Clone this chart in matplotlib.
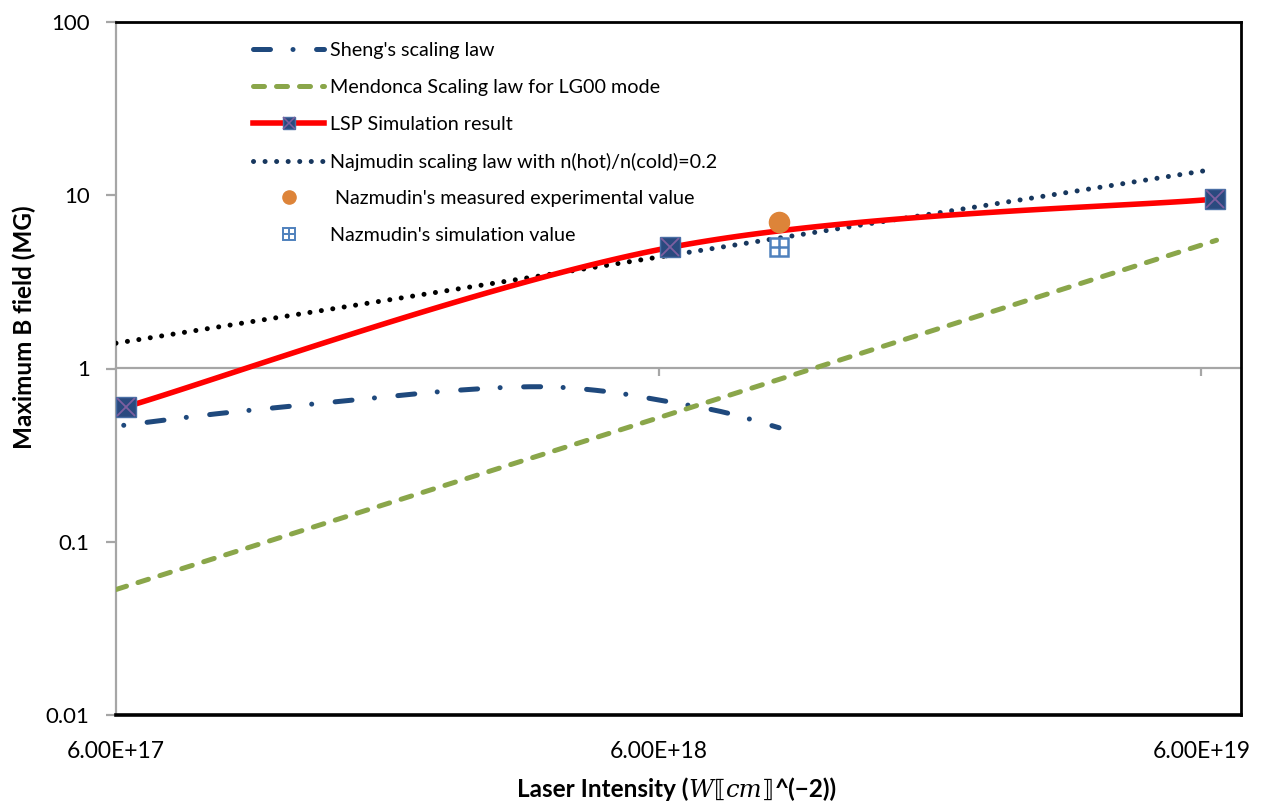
import numpy as np
import matplotlib
matplotlib.use("Agg")
import matplotlib.pyplot as plt
from matplotlib.lines import Line2D
from matplotlib.legend_handler import HandlerTuple
from matplotlib.offsetbox import TextArea, HPacker, AnchoredOffsetbox

plt.rcParams['font.family'] = ['Lato', 'DejaVu Sans']

# ---- data -------------------------------------------------------------
lsp_I = [6.25e17, 6.3e18, 6.35e19]
lsp_B = [0.60, 5.0, 9.5]

sheng_I = [6.2e17, 9.3e17, 1.55e18, 2.5e18, 3.6e18, 4.75e18, 6.05e18, 7.9e18, 1.0e19]
sheng_B = [0.47, 0.55, 0.645, 0.745, 0.785, 0.74, 0.655, 0.56, 0.455]

mendonca_I = [6.0e17, 6.0e18, 6.4e19]
mendonca_B = [0.053, 0.52, 5.5]

najmudin_low_I = [6.0e17, 6.2e18]
najmudin_low_B = [1.40, 4.47]
najmudin_I = [6.2e18, 6.13e19]
najmudin_B = [4.47, 13.9]

naz_exp_I = [1.0e19]
naz_exp_B = [7.0]
naz_sim_I = [1.0e19]
naz_sim_B = [5.0]

x_ticks = [6e17, 6e18, 6e19]
x_ticklabels = ["6.00E+17", "6.00E+18", "6.00E+19"]
y_ticks = [0.01, 0.1, 1, 10, 100]
y_ticklabels = ["0.01", "0.1", "1", "10", "100"]

labels = ["Sheng's scaling law",
          "Mendonca Scaling law for LG00 mode",
          "LSP Simulation result",
          "Najmudin scaling law with n(hot)/n(cold)=0.2",
          " Nazmudin's measured experimental value",
          "Nazmudin's simulation value"]

# ---- colours ----------------------------------------------------------
NAVY = "#1f497d"
DARK_NAVY = "#17375e"
GREEN = "#8aa64a"
RED = "#ff0000"
ORANGE = "#dd8439"
LIGHT_BLUE = "#4f81bd"
GRID_GREY = "#a6a6a6"


def smooth_log(xs, ys, n=60):
    """Bezier smoothing (spreadsheet style) in log-log space."""
    P = np.column_stack([np.log10(xs), np.log10(ys)])
    out = []
    for i in range(len(P) - 1):
        p0 = P[i - 1] if i > 0 else P[i]
        p1, p2 = P[i], P[i + 1]
        p3 = P[i + 2] if i + 2 < len(P) else P[i + 1]
        c1 = p1 + (p2 - p0) / 6.0
        c2 = p2 - (p3 - p1) / 6.0
        t = np.linspace(0, 1, n)[:, None]
        seg = ((1 - t) ** 3) * p1 + 3 * ((1 - t) ** 2) * t * c1 \
            + 3 * (1 - t) * t ** 2 * c2 + t ** 3 * p2
        out.append(seg if i == 0 else seg[1:])
    out = np.vstack(out)
    return 10 ** out[:, 0], 10 ** out[:, 1]


fig = plt.figure(figsize=(12.66, 8.07), dpi=100)
ax = fig.add_axes([116 / 1266, 1 - 715 / 807, (1241 - 116) / 1266, (715 - 22) / 807])
ax.set_xscale('log')
ax.set_yscale('log')
ax.set_xlim(6e17, 7.1e19)
ax.set_ylim(0.01, 100)

# horizontal axis crossing at B = 1
sec = ax.secondary_xaxis(0.5)
sec.spines['top'].set_color(GRID_GREY)
sec.spines['top'].set_linewidth(1.6)
sec.set_xticks(x_ticks[1:])
sec.tick_params(axis='x', direction='in', length=6, width=1.6, color=GRID_GREY,
                labeltop=False, labelbottom=False, top=True, bottom=False)
sec.xaxis.set_minor_locator(matplotlib.ticker.NullLocator())

LW = 3.6
SHENG_DASH = (0, (3.4, 4.5, 0.01, 4.7))
SHENG_LINE = (7.9, (3.4, 4.5, 0.01, 4.7))
MEND_DASH = (0, (2.2, 2.4))
DOTS = (0, (0.01, 2.3))

# Sheng's scaling law
sx, sy = smooth_log(sheng_I, sheng_B)
ax.plot(sx, sy, color=NAVY, lw=LW, dash_capstyle='round', linestyle=SHENG_LINE, zorder=3)

# Mendonca scaling law
ax.plot(mendonca_I, mendonca_B, color=GREEN, lw=LW, dash_capstyle='round',
        linestyle=MEND_DASH, zorder=3)

# Najmudin scaling law
ax.plot(najmudin_low_I, najmudin_low_B, color='black', lw=LW, dash_capstyle='round',
        linestyle=DOTS, zorder=3)
ax.plot(najmudin_I, najmudin_B, color=DARK_NAVY, lw=LW, dash_capstyle='round',
        linestyle=DOTS, zorder=3)

# LSP simulation result
lx, ly = smooth_log(lsp_I, lsp_B)
ax.plot(lx, ly, color=RED, lw=4.0, solid_capstyle='butt', zorder=4)
ax.plot(lsp_I, lsp_B, linestyle='none', marker='s', ms=14, mfc='#2a4a7f',
        mec='#4a6fa5', mew=1.0, zorder=5, clip_on=False)
ax.plot(lsp_I, lsp_B, linestyle='none', marker='x', ms=13, mec='#7d5fa0',
        mew=1.3, zorder=6, clip_on=False)

# Nazmudin points
ax.plot(naz_exp_I, naz_exp_B, linestyle='none', marker='o', ms=14.5,
        mfc=ORANGE, mec=ORANGE, zorder=5)
ax.plot(naz_sim_I, naz_sim_B, linestyle='none', marker='s', ms=13,
        mfc='white', mec=LIGHT_BLUE, mew=1.8, zorder=5)
ax.plot(naz_sim_I, naz_sim_B, linestyle='none', marker='+', ms=13,
        mec=LIGHT_BLUE, mew=1.8, zorder=6)

# axes styling
for side in ['top', 'right', 'bottom']:
    ax.spines[side].set_color('black')
ax.spines['top'].set_linewidth(2.0)
ax.spines['right'].set_linewidth(2.0)
ax.spines['bottom'].set_linewidth(2.6)
ax.spines['left'].set_color(GRID_GREY)
ax.spines['left'].set_linewidth(1.6)

ax.set_xticks(x_ticks)
ax.set_xticklabels(x_ticklabels)
ax.xaxis.set_minor_locator(matplotlib.ticker.NullLocator())
ax.tick_params(axis='x', length=0, pad=19, labelsize=16.5)
ax.set_yticks(y_ticks)
ax.set_yticklabels(y_ticklabels)
ax.yaxis.set_minor_locator(matplotlib.ticker.NullLocator())
ax.tick_params(axis='y', length=7, width=1.6, color=GRID_GREY, pad=12, labelsize=16)

# y axis title
ax.set_ylabel("Maximum B field (MG)", fontsize=17.5, fontweight='bold')
ax.yaxis.set_label_coords(-0.071, 0.56)

# x axis title, built from pieces with mixed styles
XL = 17.5
bold = dict(family=['Lato', 'DejaVu Sans'], weight='bold', size=XL, color='black')
ital = dict(family=['DejaVu Serif'], style='italic', size=XL, color='black')
brk = dict(family=['DejaVu Sans'], size=XL, color='black')
pieces = [TextArea("Laser Intensity (", textprops=bold),
          TextArea("W", textprops=ital),
          TextArea("⟦", textprops=brk),
          TextArea("cm", textprops=ital),
          TextArea("⟧", textprops=brk),
          TextArea("^(−2))", textprops=bold)]
xl_box = HPacker(children=pieces, align='baseline', pad=0, sep=0)
xl_anchor = AnchoredOffsetbox(loc='lower center', child=xl_box, pad=0, borderpad=0,
                              frameon=False, bbox_to_anchor=(677 / 1266, 5 / 807),
                              bbox_transform=fig.transFigure)
fig.add_artist(xl_anchor)

# legend
h_sheng = Line2D([], [], color=NAVY, lw=LW, dash_capstyle='round', linestyle=SHENG_DASH)
h_mend = Line2D([], [], color=GREEN, lw=LW, dash_capstyle='round', linestyle=MEND_DASH)
h_lsp = (Line2D([], [], color=RED, lw=4.0, marker='s', ms=9, mfc='#2a4a7f',
                mec='#4a6fa5'),
         Line2D([], [], linestyle='none', marker='x', ms=8.5, mec='#7d5fa0', mew=1.1))
h_naj = Line2D([], [], color=DARK_NAVY, lw=LW, dash_capstyle='round', linestyle=DOTS)
h_exp = Line2D([], [], linestyle='none', marker='o', ms=9.5, mfc=ORANGE, mec=ORANGE)
h_sim = (Line2D([], [], linestyle='none', marker='s', ms=8, mfc='white',
                mec=LIGHT_BLUE, mew=1.4),
         Line2D([], [], linestyle='none', marker='+', ms=8, mec=LIGHT_BLUE, mew=1.4))

leg = ax.legend([h_sheng, h_mend, h_lsp, h_naj, h_exp, h_sim], labels,
                handler_map={tuple: HandlerTuple(ndivide=1)},
                loc='upper left', bbox_to_anchor=(0.115, 0.982), frameon=False,
                fontsize=14.2, numpoints=1, handlelength=3.6, handletextpad=0.3,
                labelspacing=1.0, borderaxespad=0.0)

fig.savefig("out.png", dpi=100, facecolor='white')
